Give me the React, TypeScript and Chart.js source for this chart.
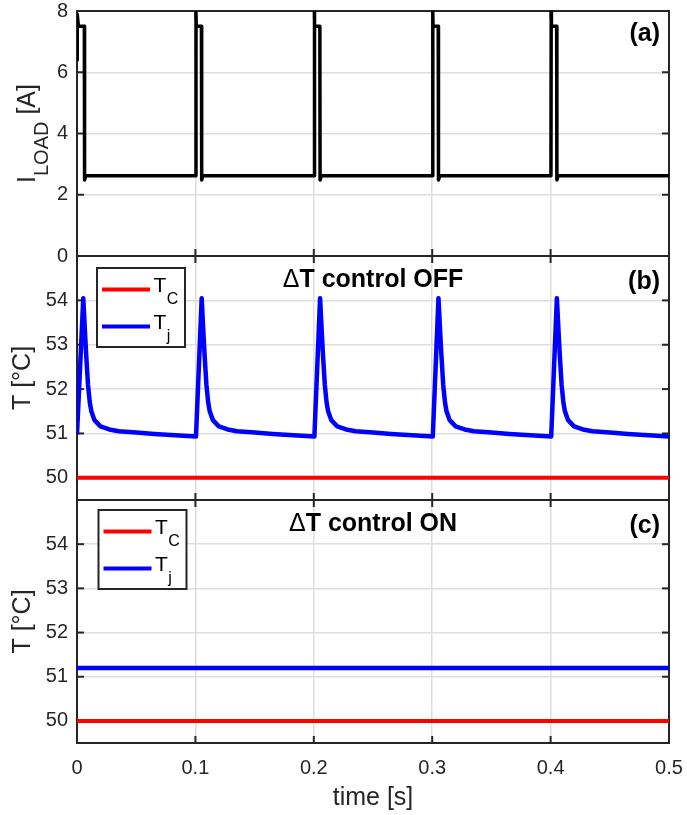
import React, { useEffect, useRef } from "react";
import { Chart, registerables } from "chart.js";

Chart.register(...registerables);

const FONT = '"Liberation Sans", Arial, Helvetica, sans-serif';
const AXIS_COLOR = "#262626";
const GRID_COLOR = "#dedede";
const RED = "#ff0000";
const BLUE = "#0000ff";

// ---- axis ticks ----
const xTicks = [0, 0.1, 0.2, 0.3, 0.4, 0.5];
const loadTicks = [0, 2, 4, 6, 8];
const tempTicks = [50, 51, 52, 53, 54];

// ---- (a) load current ----
const loadTime = [
  0, 0.0002, 0.0012, 0.0062, 0.0064, 0.0074,
  0.1003, 0.1005, 0.1007, 0.1051, 0.1053, 0.1063,
  0.2003, 0.2005, 0.2007, 0.2051, 0.2053, 0.2063,
  0.3003, 0.3005, 0.3007, 0.3051, 0.3053, 0.3063,
  0.4003, 0.4005, 0.4007, 0.4051, 0.4053, 0.4063,
  0.5,
];
const loadCurrent = [
  6.4, 7.9, 7.5, 7.5, 2.48, 2.62,
  2.62, 7.95, 7.5, 7.5, 2.48, 2.62,
  2.62, 7.95, 7.5, 7.5, 2.48, 2.62,
  2.62, 7.95, 7.5, 7.5, 2.48, 2.62,
  2.62, 7.95, 7.5, 7.5, 2.48, 2.62,
  2.62,
];

// ---- (b) dT control OFF ----
const tjOffTime = [
  0, 0.0053, 0.0067, 0.0078, 0.0093, 0.0108, 0.0121, 0.0148, 0.0198, 0.0273, 0.0353, 0.0503, 0.0653,
  0.1005, 0.1053, 0.1067, 0.1078, 0.1093, 0.1108, 0.1121, 0.1148, 0.1198, 0.1273, 0.1353, 0.1503, 0.1653,
  0.2005, 0.2053, 0.2067, 0.2078, 0.2093, 0.2108, 0.2121, 0.2148, 0.2198, 0.2273, 0.2353, 0.2503, 0.2653,
  0.3005, 0.3053, 0.3067, 0.3078, 0.3093, 0.3108, 0.3121, 0.3148, 0.3198, 0.3273, 0.3353, 0.3503, 0.3653,
  0.4005, 0.4053, 0.4067, 0.4078, 0.4093, 0.4108, 0.4121, 0.4148, 0.4198, 0.4273, 0.4353, 0.4503, 0.4653,
  0.5,
];
const tjOffTemp = [
  50.98, 54.05, 53.3, 52.75, 52.1, 51.7, 51.5, 51.3, 51.16, 51.09, 51.05, 51.02, 50.99,
  50.93, 54.05, 53.3, 52.75, 52.1, 51.7, 51.5, 51.3, 51.16, 51.09, 51.05, 51.02, 50.99,
  50.93, 54.05, 53.3, 52.75, 52.1, 51.7, 51.5, 51.3, 51.16, 51.09, 51.05, 51.02, 50.99,
  50.93, 54.05, 53.3, 52.75, 52.1, 51.7, 51.5, 51.3, 51.16, 51.09, 51.05, 51.02, 50.99,
  50.93, 54.05, 53.3, 52.75, 52.1, 51.7, 51.5, 51.3, 51.16, 51.09, 51.05, 51.02, 50.99,
  50.93,
];
const tcOffTime = [0, 0.5];
const tcOffTemp = [50.0, 50.0];

// ---- (c) dT control ON ----
const tjOnTime = [0, 0.5];
const tjOnTemp = [51.2, 51.2];
const tcOnTime = [0, 0.5];
const tcOnTemp = [50.0, 50.0];

// ---- texts ----
const panelLabels = ["(a)", "(b)", "(c)"];
const panelTitles = ["", "T control OFF", "T control ON"];
const DELTA = "\u0394";
const legendSubs = ["C", "j"];
const xTitle = "time [s]";
const tempTitle = "T [\u00b0C]";

const pts = (xs: number[], ys: number[]) => xs.map((x, i) => ({ x, y: ys[i] }));

const yScale = (min: number, max: number, ticks: number[], stackWeight: number, weight: number) => ({
  type: "linear" as const,
  position: "left" as const,
  stack: "panels",
  stackWeight,
  weight,
  min,
  max,
  afterBuildTicks: (s: any) => {
    s.ticks = ticks.map((v) => ({ value: v }));
  },
  afterFit: (s: any) => {
    s.width = 77;
    s.paddingTop = 0;
    s.paddingBottom = 0;
  },
  ticks: {
    font: { family: FONT, size: 20 },
    color: AXIS_COLOR,
    padding: 9,
    autoSkip: false,
    callback: (v: any) => String(v),
  },
  grid: { color: GRID_COLOR, lineWidth: 1.5, drawTicks: false },
  border: { display: false },
});

const panelPlugin = {
  id: "panelPlugin",
  beforeDatasetsDraw(chart: any) {
    const { ctx, chartArea } = chart;
    const xs = chart.scales.x;
    const panels = ["ya", "yb", "yc"].map((id) => chart.scales[id]);
    ctx.save();
    ctx.strokeStyle = AXIS_COLOR;
    ctx.lineWidth = 2;
    const line = (x1: number, y1: number, x2: number, y2: number) => {
      ctx.beginPath();
      ctx.moveTo(x1, y1);
      ctx.lineTo(x2, y2);
      ctx.stroke();
    };
    panels.forEach((s: any) => {
      s.ticks.forEach((t: any) => {
        const y = s.getPixelForValue(t.value);
        line(chartArea.left, y, chartArea.left + 7, y);
        line(chartArea.right, y, chartArea.right - 7, y);
      });
      xTicks.forEach((v) => {
        const x = xs.getPixelForValue(v);
        line(x, s.top, x, s.top + 7);
        line(x, s.bottom, x, s.bottom - 7);
      });
      ctx.strokeRect(chartArea.left, s.top, chartArea.right - chartArea.left, s.bottom - s.top);
    });
    ctx.restore();
  },
  afterDraw(chart: any) {
    const { ctx, chartArea } = chart;
    const panels = ["ya", "yb", "yc"].map((id) => chart.scales[id]);
    const cx = (chartArea.left + chartArea.right) / 2;
    ctx.save();

    // panel labels and titles
    ctx.fillStyle = "#000";
    ctx.textBaseline = "middle";
    const labelOffsets = [23, 26, 26];
    panels.forEach((s: any, i: number) => {
      ctx.font = `bold 25px ${FONT}`;
      ctx.textAlign = "right";
      ctx.fillText(panelLabels[i], chartArea.right - 9, s.top + labelOffsets[i]);
      if (panelTitles[i]) {
        const wRest = ctx.measureText(panelTitles[i]).width;
        ctx.font = `25px ${FONT}`;
        const wD = ctx.measureText(DELTA).width;
        const start = cx - (wD + wRest) / 2;
        const y = s.top + 24.5;
        ctx.textAlign = "left";
        ctx.fillText(DELTA, start, y);
        ctx.font = `bold 25px ${FONT}`;
        ctx.fillText(panelTitles[i], start + wD, y);
      }
    });

    // legends
    const legendPos = [null, { dx: 20, dy: 12 }, { dx: 21.5, dy: 10 }];
    panels.forEach((s: any, i: number) => {
      const p = legendPos[i];
      if (!p) return;
      const left = chartArea.left + p.dx;
      const top = s.top + p.dy;
      const w = 88;
      const h = 79;
      ctx.fillStyle = "#fff";
      ctx.fillRect(left, top, w, h);
      ctx.strokeStyle = AXIS_COLOR;
      ctx.lineWidth = 2;
      ctx.strokeRect(left, top, w, h);
      const colors = [RED, BLUE];
      const rows = [21.5, 58.5];
      rows.forEach((ry, k) => {
        const y = top + ry;
        ctx.strokeStyle = colors[k];
        ctx.lineWidth = 4;
        ctx.beginPath();
        ctx.moveTo(left + 5, y);
        ctx.lineTo(left + 53, y);
        ctx.stroke();
        ctx.fillStyle = "#000";
        ctx.textAlign = "left";
        ctx.textBaseline = "alphabetic";
        ctx.font = `21px ${FONT}`;
        const tx = left + 56.5;
        const base = y + 2.5;
        ctx.fillText("T", tx, base);
        const tw = ctx.measureText("T").width;
        ctx.font = `16px ${FONT}`;
        ctx.fillText(legendSubs[k], tx + tw + 0.5, base + 11.5);
      });
    });

    // y-axis titles
    ctx.fillStyle = AXIS_COLOR;
    ctx.textBaseline = "alphabetic";
    ctx.textAlign = "left";
    {
      const s = panels[0];
      const cy = (s.top + s.bottom) / 2;
      ctx.font = `25px ${FONT}`;
      const wI = ctx.measureText("I").width;
      const wA = ctx.measureText(" [A]").width;
      ctx.font = `20px ${FONT}`;
      const wL = ctx.measureText("LOAD").width;
      const total = wI + wL + wA;
      ctx.save();
      ctx.translate(35, cy);
      ctx.rotate(-Math.PI / 2);
      let u = -total / 2;
      ctx.font = `25px ${FONT}`;
      ctx.fillText("I", u, 0);
      u += wI;
      ctx.font = `20px ${FONT}`;
      ctx.fillText("LOAD", u, 13);
      u += wL;
      ctx.font = `25px ${FONT}`;
      ctx.fillText(" [A]", u, 0);
      ctx.restore();
    }
    [panels[1], panels[2]].forEach((s: any) => {
      const cy = (s.top + s.bottom) / 2;
      ctx.save();
      ctx.translate(30, cy);
      ctx.rotate(-Math.PI / 2);
      ctx.font = `25px ${FONT}`;
      ctx.textAlign = "center";
      ctx.fillText(tempTitle, 0, 0);
      ctx.restore();
    });

    // x-axis title
    ctx.font = `25px ${FONT}`;
    ctx.textAlign = "center";
    ctx.textBaseline = "middle";
    ctx.fillText(xTitle, cx, 798);

    ctx.restore();
  },
};

export default function App() {
  const ref = useRef<HTMLCanvasElement | null>(null);

  useEffect(() => {
    if (!ref.current) return;
    const lineDs = (label: string, xs: number[], ys: number[], color: string, yAxisID: string, width: number) => ({
      label,
      data: pts(xs, ys),
      borderColor: color,
      backgroundColor: color,
      borderWidth: width,
      pointRadius: 0,
      tension: 0,
      fill: false,
      xAxisID: "x",
      yAxisID,
      borderJoinStyle: "round" as const,
    });

    const chart = new Chart(ref.current, {
      type: "line",
      data: {
        datasets: [
          lineDs("I_LOAD", loadTime, loadCurrent, "#000000", "ya", 3.5),
          lineDs("Tc OFF", tcOffTime, tcOffTemp, RED, "yb", 4),
          lineDs("Tj OFF", tjOffTime, tjOffTemp, BLUE, "yb", 4.5),
          lineDs("Tc ON", tcOnTime, tcOnTemp, RED, "yc", 4),
          lineDs("Tj ON", tjOnTime, tjOnTemp, BLUE, "yc", 4.5),
        ],
      },
      options: {
        responsive: false,
        animation: false,
        maintainAspectRatio: false,
        layout: { padding: { left: 0, top: 11, right: 18, bottom: 0 } },
        plugins: {
          legend: { display: false },
          tooltip: { enabled: false },
          title: { display: false },
        },
        scales: {
          x: {
            type: "linear",
            position: "bottom",
            min: 0,
            max: 0.5,
            afterBuildTicks: (s: any) => {
              s.ticks = xTicks.map((v) => ({ value: v }));
            },
            afterFit: (s: any) => {
              s.height = 72;
              s.paddingLeft = 0;
              s.paddingRight = 0;
            },
            ticks: {
              font: { family: FONT, size: 20 },
              color: AXIS_COLOR,
              padding: 13,
              autoSkip: false,
              maxRotation: 0,
              callback: (v: any) => String(v),
            },
            grid: { color: GRID_COLOR, lineWidth: 1.5, drawTicks: false },
            border: { display: false },
          },
          yc: yScale(49.5, 55, tempTicks, 243, 1),
          yb: yScale(49.5, 55, tempTicks, 244, 2),
          ya: yScale(0, 8, loadTicks, 245, 3),
        } as any,
      },
      plugins: [panelPlugin],
    });
    return () => chart.destroy();
  }, []);

  return (
    <div style={{ position: "absolute", left: 0, top: 0, width: 687, height: 815, background: "#fff" }}>
      <canvas ref={ref} width={687} height={815} style={{ display: "block" }} />
    </div>
  );
}
